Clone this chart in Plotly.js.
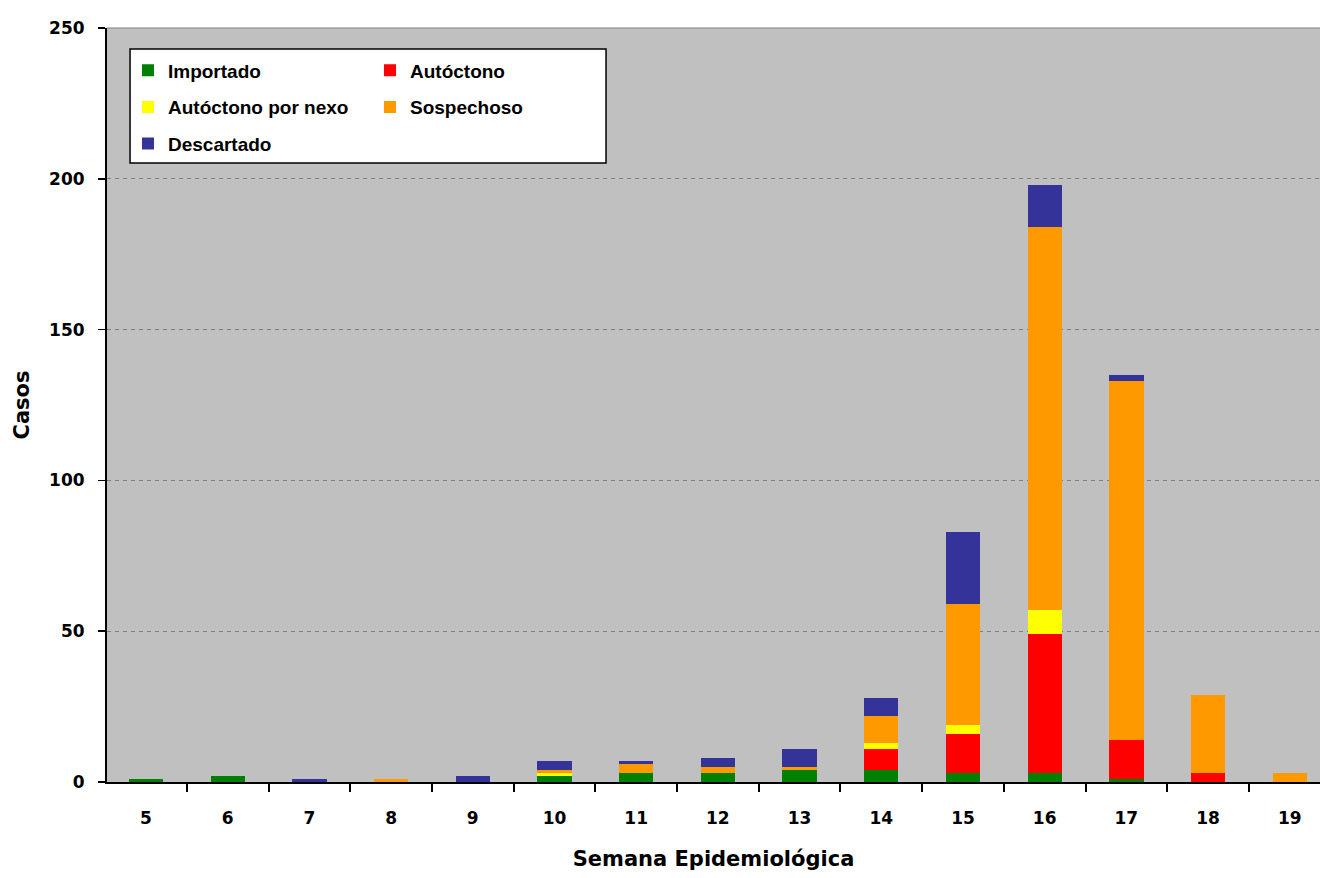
<!DOCTYPE html>
<html>
<head>
<meta charset="utf-8">
<script src="https://cdn.plot.ly/plotly-3.0.1.min.js"></script>
<style>html,body{margin:0;padding:0;background:#fff;}#chart{width:1320px;height:878px;}</style>
</head>
<body>
<div id="chart"></div>
<script>
// Data
const semanas = ['5','6','7','8','9','10','11','12','13','14','15','16','17','18','19'];
const importado  = [1, 2, 0, 0, 0, 2, 3, 3, 4, 4, 3, 3, 1, 0, 0];
const autoctono  = [0, 0, 0, 0, 0, 0, 0, 0, 0, 7, 13, 46, 13, 3, 0];
const nexo       = [0, 0, 0, 0, 0, 1, 0, 0, 0, 2, 3, 8, 0, 0, 0];
const sospechoso = [0, 0, 0, 1, 0, 1, 3, 2, 1, 9, 40, 127, 119, 26, 3];
const descartado = [0, 0, 1, 0, 2, 3, 1, 3, 6, 6, 24, 14, 2, 0, 0];
const seriesNames = ['Importado', 'Autóctono', 'Autóctono por nexo', 'Sospechoso', 'Descartado'];
const yTickVals = [0, 50, 100, 150, 200, 250];

const colors = ['#008000', '#ff0000', '#ffff00', '#ff9900', '#333399'];
const legendOf = ['legend', 'legend2', 'legend', 'legend2', 'legend'];
const values = [importado, autoctono, nexo, sospechoso, descartado];

const traces = values.map((v, i) => ({
  type: 'bar',
  x: semanas,
  y: v,
  name: seriesNames[i],
  legend: legendOf[i],
  legendgroup: 'g' + i,
  width: 0.42,
  marker: {color: colors[i], line: {width: 0}},
  hoverinfo: 'x+y+name'
}));

const tickFont = {family: 'DejaVu Sans', size: 17, color: '#000', weight: 'bold'};
const legendFont = {family: 'Liberation Sans, Arial', size: 19, color: '#000', weight: 'bold'};
const titleFont = {family: 'DejaVu Sans', size: 21, color: '#000', weight: 'bold'};

const layout = {
  width: 1320,
  height: 878,
  margin: {l: 107, r: 0, t: 28, b: 96},
  paper_bgcolor: '#ffffff',
  plot_bgcolor: '#c0c0c0',
  barmode: 'stack',
  showlegend: true,
  xaxis: {
    type: 'category',
    range: [-0.477, 14.37],
    showline: true,
    linecolor: '#000',
    linewidth: 2,
    ticks: 'outside',
    tickson: 'boundaries',
    ticklen: 8,
    tickwidth: 2,
    tickcolor: '#000',
    showgrid: false,
    zeroline: false,
    tickfont: tickFont,
    ticklabelstandoff: 20,
    title: {text: 'Semana Epidemiológica', font: titleFont, standoff: 24},
    automargin: false,
    fixedrange: true
  },
  yaxis: {
    range: [0, 250],
    tickvals: yTickVals,
    ticktext: yTickVals.map(String),
    showline: true,
    linecolor: '#000',
    linewidth: 2,
    ticks: 'outside',
    ticklen: 7,
    tickwidth: 1.5,
    tickcolor: '#000',
    showgrid: true,
    gridcolor: '#808080',
    gridwidth: 1,
    griddash: '4px,4px',
    zeroline: false,
    tickfont: tickFont,
    ticklabelstandoff: 10,
    title: {text: 'Casos', font: titleFont, standoff: 14},
    automargin: false,
    fixedrange: true
  },
  legend: {
    x: 0.0173, y: 0.969, xanchor: 'left', yanchor: 'top',
    orientation: 'v',
    traceorder: 'grouped',
    tracegroupgap: 9,
    itemwidth: 30,
    bgcolor: 'rgba(0,0,0,0)',
    borderwidth: 0,
    font: legendFont
  },
  legend2: {
    x: 0.2168, y: 0.969, xanchor: 'left', yanchor: 'top',
    orientation: 'v',
    traceorder: 'grouped',
    tracegroupgap: 9,
    itemwidth: 30,
    bgcolor: 'rgba(0,0,0,0)',
    borderwidth: 0,
    font: legendFont
  },
  shapes: [
    {type: 'rect', xref: 'paper', yref: 'paper', x0: 0.019, x1: 0.4114, y0: 0.821, y1: 0.9721,
     fillcolor: '#ffffff', line: {color: '#000', width: 1.5}, layer: 'above'},
    {type: 'line', xref: 'paper', yref: 'paper', x0: 0, x1: 1, y0: 1, y1: 1,
     line: {color: '#808080', width: 1}, layer: 'above'}
  ]
};

Plotly.newPlot('chart', traces, layout, {displayModeBar: false, staticPlot: true});
</script>
</body>
</html>
